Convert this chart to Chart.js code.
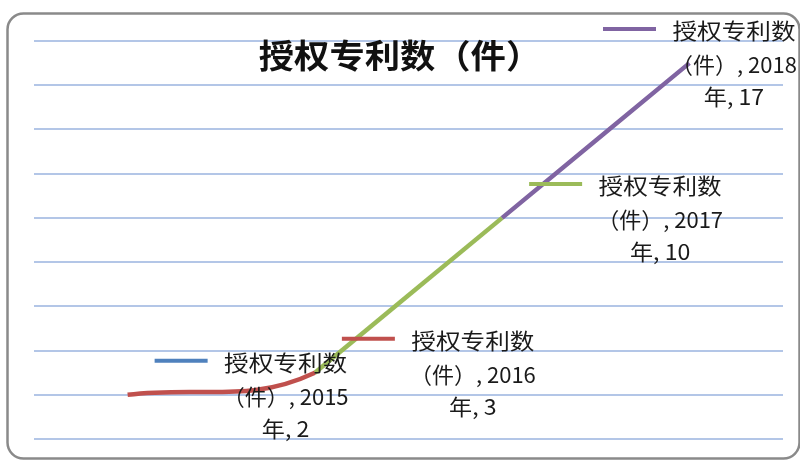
<!DOCTYPE html>
<html>
<head>
<meta charset="utf-8">
<script src="https://cdn.jsdelivr.net/npm/chart.js@4"></script>
<style>
  html, body { margin: 0; padding: 0; background: #fff; }
  #wrap { width: 800px; height: 461px; position: relative; }
</style>
</head>
<body>
<div id="wrap"><canvas id="c" width="800" height="461"></canvas></div>
<script>
const categories = ['2015年', '2016年', '2017年', '2018年'];
const seriesName = '授权专利数（件）';
const counts = [2, 3, 10, 17];
const pointColors = ['#4F81BD', '#C0504D', '#9BBB59', '#8064A2'];
const yMin = 0, yMax = 18, yStep = 2;

const FONT = '"Noto Sans CJK SC", "Noto Sans", sans-serif';

const framePlugin = {
  id: 'frame',
  beforeDraw(chart) {
    const ctx = chart.ctx;
    ctx.save();
    ctx.fillStyle = '#fff';
    ctx.fillRect(0, 0, chart.width, chart.height);
    ctx.strokeStyle = '#8a8a8a';
    ctx.lineWidth = 2.5;
    ctx.beginPath();
    ctx.roundRect(7.5, 13.5, 792, 445, 16);
    ctx.stroke();
    ctx.restore();
  }
};

function drawStretched(ctx, text, cx, cy, sx) {
  ctx.save();
  ctx.translate(cx, cy);
  ctx.scale(sx, 1);
  ctx.fillText(text, 0, 0);
  ctx.restore();
}

const labelPlugin = {
  id: 'labels',
  afterDatasetsDraw(chart) {
    const ctx = chart.ctx;
    const xs = chart.scales.x, ys = chart.scales.y;
    const area = chart.chartArea;
    ctx.save();
    // title
    ctx.fillStyle = '#111';
    ctx.font = 'bold 33px ' + FONT;
    ctx.textAlign = 'center';
    ctx.textBaseline = 'middle';
    drawStretched(ctx, seriesName, 400, 55, 1.07);

    ctx.font = '22px ' + FONT;
    ctx.fillStyle = '#1a1a1a';
    counts.forEach((v, i) => {
      const px = xs.getPixelForValue(i);
      const py = ys.getPixelForValue(v);
      const cx = Math.min(px + 158, area.right - 49);
      const l1 = py - 32, l2 = py + 2, l3 = py + 34;
      const cat = categories[i];
      const lines = [
        seriesName.slice(0, 5),
        seriesName.slice(5) + ', ' + cat.slice(0, -1),
        cat.slice(-1) + ', ' + v
      ];
      // legend key
      ctx.strokeStyle = pointColors[i];
      ctx.lineWidth = 4;
      ctx.beginPath();
      ctx.moveTo(cx - 131, l1 - 2);
      ctx.lineTo(cx - 78, l1 - 2);
      ctx.stroke();
      drawStretched(ctx, lines[0], cx, l1, 1.12);
      drawStretched(ctx, lines[1], cx, l2, 1.0);
      drawStretched(ctx, lines[2], cx, l3, 1.05);
    });
    ctx.restore();
  }
};

// first segment drawn from the full smoothed series, later segments from the
// series starting at the second year (Excel draws them nearly straight)
const laterCounts = counts.map((v, i) => (i === 0 ? null : v));

new Chart(document.getElementById('c'), {
  type: 'line',
  data: {
    labels: categories,
    datasets: [{
      label: seriesName,
      data: counts,
      borderWidth: 4.5,
      borderColor: pointColors[1],
      tension: 0.4,
      pointRadius: 0,
      fill: false,
      segment: {
        borderColor: c => (c.p1DataIndex === 1 ? pointColors[1] : 'rgba(0,0,0,0)')
      }
    }, {
      label: seriesName,
      data: laterCounts,
      borderWidth: 4.5,
      borderColor: pointColors[2],
      tension: 0.4,
      pointRadius: 0,
      fill: false,
      spanGaps: false,
      segment: {
        borderColor: c => pointColors[c.p1DataIndex]
      }
    }]
  },
  options: {
    responsive: false,
    animation: false,
    devicePixelRatio: 1,
    layout: { padding: { left: 34, right: 17, top: 41, bottom: 22 } },
    plugins: {
      legend: { display: false },
      title: { display: false },
      tooltip: { enabled: false }
    },
    scales: {
      x: { display: false, offset: true },
      y: {
        min: yMin, max: yMax,
        ticks: { display: false, stepSize: yStep },
        border: { display: false },
        grid: { color: '#B3C6E7', lineWidth: 2, drawTicks: false }
      }
    }
  },
  plugins: [framePlugin, labelPlugin]
});
</script>
</body>
</html>
